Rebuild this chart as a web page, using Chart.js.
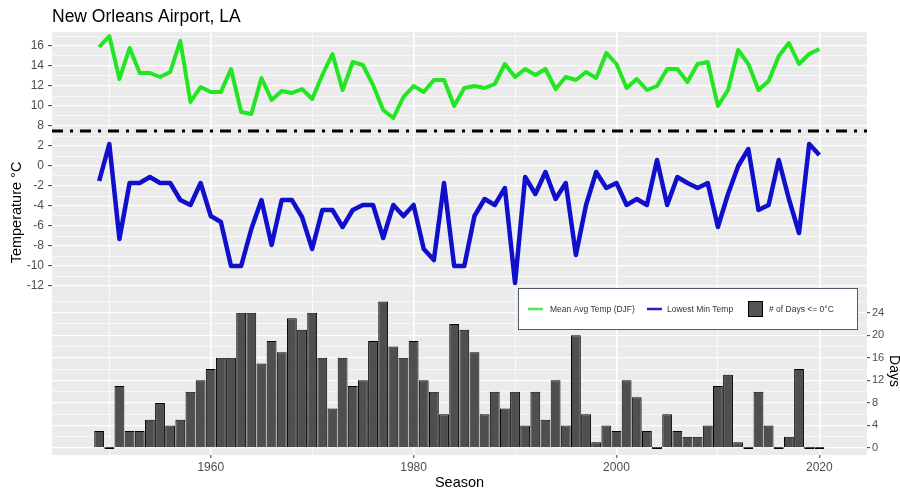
<!DOCTYPE html>
<html><head><meta charset="utf-8">
<script src="https://cdn.jsdelivr.net/npm/chart.js@4.4.1/dist/chart.umd.min.js"></script>
<style>html,body{margin:0;padding:0;background:#fff;}#wrap{width:900px;height:492px;}</style>
</head><body><div id="wrap"><canvas id="c" width="900" height="492"></canvas></div>
<script>
// ---------- data ----------
const seasons = [1949,1950,1951,1952,1953,1954,1955,1956,1957,1958,1959,1960,1961,1962,1963,1964,1965,1966,1967,1968,1969,1970,1971,1972,1973,1974,1975,1976,1977,1978,1979,1980,1981,1982,1983,1984,1985,1986,1987,1988,1989,1990,1991,1992,1993,1994,1995,1996,1997,1998,1999,2000,2001,2002,2003,2004,2005,2006,2007,2008,2009,2010,2011,2012,2013,2014,2015,2016,2017,2018,2019,2020];
const meanAvgTemp = [15.9,17.0,12.7,15.8,13.3,13.3,12.9,13.4,16.5,10.4,11.9,11.4,11.4,13.7,9.4,9.2,12.8,10.6,11.5,11.3,11.7,10.7,13.1,15.2,11.6,14.4,14.1,12.1,9.6,8.8,10.9,12.0,11.4,12.6,12.6,10.0,11.8,12.0,11.8,12.2,14.2,12.9,13.7,13.1,13.7,11.7,12.9,12.6,13.4,12.8,15.3,14.2,11.8,12.7,11.6,12.0,13.7,13.7,12.4,14.2,14.4,10.0,11.6,15.6,14.2,11.6,12.5,15.0,16.3,14.2,15.2,15.7];
const lowestMinTemp = [-1.5,2.2,-7.3,-1.7,-1.7,-1.1,-1.7,-1.7,-3.4,-3.9,-1.7,-5.0,-5.6,-10.0,-10.0,-6.3,-3.4,-7.9,-3.4,-3.4,-5.1,-8.3,-4.4,-4.4,-6.1,-4.4,-3.9,-3.9,-7.2,-3.9,-5.0,-3.9,-8.3,-9.4,-1.7,-10.0,-10.0,-5.0,-3.3,-3.9,-2.2,-11.7,-1.1,-2.8,-0.6,-3.3,-1.7,-8.9,-3.9,-0.6,-2.2,-1.7,-3.9,-3.3,-3.9,0.6,-3.9,-1.1,-1.7,-2.2,-1.7,-6.1,-2.8,0.0,1.7,-4.4,-3.9,0.6,-3.3,-6.7,2.2,1.1];
const daysAtOrBelow0 = [3,0,11,3,3,5,8,4,5,10,12,14,16,16,24,24,15,19,17,23,21,24,16,7,16,11,12,19,26,18,16,19,12,10,6,22,21,17,6,10,7,10,4,10,5,12,4,20,6,1,4,3,12,9,3,0,6,3,2,2,4,11,13,1,0,10,4,0,2,14,0,0];
const yearTickLabels = [1960,1980,2000,2020];
const upperTempTickLabels = [16,14,12,10,8];
const lowerTempTickLabels = [2,0,-2,-4,-6,-8,-10,-12];
const dayTickLabels = [0,4,8,12,16,20,24];
const upperOffset = 4;       // upper (mean) panel is drawn shifted down by 4 °C
const separatorLevel = 3.5;  // dash-dot divider between the two temperature bands

// ---------- helpers ----------
const FONT = "'Liberation Sans', Arial, sans-serif";
const X_MIN = 1944.35, X_MAX = 2024.7;

function tempLabel(v){
  if (v >= upperOffset && upperTempTickLabels.includes(v + upperOffset)) return String(v + upperOffset);
  if (v <= 2 && lowerTempTickLabels.includes(v)) return String(v);
  return '';
}

const panelBg = {
  id:'panelBg',
  beforeDraw(chart){
    const {ctx, chartArea:a} = chart;
    ctx.save(); ctx.fillStyle = '#EBEBEB';
    ctx.fillRect(a.left, a.top, a.right - a.left, a.bottom - a.top);
    ctx.restore();
  }
};

const texts = {
  id:'texts',
  afterDraw(chart){
    const {ctx, chartArea:a} = chart;
    ctx.save();
    ctx.fillStyle = '#000';
    ctx.font = `17.5px ${FONT}`;
    ctx.textAlign = 'left'; ctx.textBaseline = 'alphabetic';
    ctx.fillText('New Orleans Airport, LA', a.left, 21.5);

    ctx.font = `14.5px ${FONT}`;
    ctx.textAlign = 'center'; ctx.textBaseline = 'middle';
    ctx.fillText('Season', (a.left + a.right) / 2, 482.5);

    ctx.save(); ctx.translate(17, 212.5); ctx.rotate(-Math.PI/2);
    ctx.fillText('Temperature °C', 0, 0); ctx.restore();

    ctx.save(); ctx.translate(894, 371); ctx.rotate(Math.PI/2);
    ctx.font = `14px ${FONT}`;
    ctx.fillText('Days', 0, 0); ctx.restore();

    // legend
    const L = 518, T = 288, R = 858, B = 330, cy = 309;
    ctx.fillStyle = '#fff'; ctx.fillRect(L, T, R - L, B - T);
    ctx.strokeStyle = '#4f5a6b'; ctx.lineWidth = 1;
    ctx.strokeRect(L + 0.5, T + 0.5, R - L - 1, B - T - 1);
    ctx.lineWidth = 2.5;
    ctx.strokeStyle = '#55e655';
    ctx.beginPath(); ctx.moveTo(528, cy); ctx.lineTo(543, cy); ctx.stroke();
    ctx.strokeStyle = '#2020cc';
    ctx.beginPath(); ctx.moveTo(647, cy); ctx.lineTo(662, cy); ctx.stroke();
    ctx.fillStyle = '#000'; ctx.fillRect(748, 301, 15, 16);
    ctx.fillStyle = '#555'; ctx.fillRect(749, 302, 13, 14);
    ctx.fillStyle = '#333'; ctx.font = `8.5px ${FONT}`;
    ctx.textAlign = 'left'; ctx.textBaseline = 'middle';
    ctx.fillText('Mean Avg Temp (DJF)', 550, cy + 0.5);
    ctx.fillText('Lowest Min Temp', 667, cy + 0.5);
    ctx.fillText('# of Days <= 0°C', 769, cy + 0.5);
    ctx.restore();
  }
};

const data = {
  datasets: [
    {
      type:'line', label:'Mean Avg Temp (DJF)', xAxisID:'x', yAxisID:'yT',
      data: seasons.map((s,i)=>({x:s, y:meanAvgTemp[i] - upperOffset})),
      borderColor:'#22e622', borderWidth:4, pointRadius:0, tension:0,
      borderJoinStyle:'round', order:1
    },
    {
      type:'line', label:'Lowest Min Temp', xAxisID:'x', yAxisID:'yT',
      data: seasons.map((s,i)=>({x:s, y:lowestMinTemp[i]})),
      borderColor:'#1010cc', borderWidth:4.5, pointRadius:0, tension:0,
      borderJoinStyle:'round', order:1
    },
    {
      type:'line', label:'divider', xAxisID:'x', yAxisID:'yT',
      data: [{x:X_MIN, y:separatorLevel}, {x:X_MAX, y:separatorLevel}],
      borderColor:'#000', borderWidth:3, borderDash:[11,7,3,7], pointRadius:0, order:2
    },
    {
      type:'bar', label:'# of Days <= 0°C', xAxisID:'x', yAxisID:'yD',
      data: seasons.map((s,i)=>({x:s, y:daysAtOrBelow0[i]})),
      backgroundColor:'#4f4f4f', borderColor:'#000', borderWidth:1,
      barPercentage:0.97, categoryPercentage:1, minBarLength:2, order:3
    }
  ]
};

new Chart(document.getElementById('c'), {
  type:'bar',
  data,
  plugins:[panelBg, texts],
  options:{
    responsive:false, animation:false, devicePixelRatio:1,
    layout:{padding:{top:32, left:0, right:0, bottom:0}},
    plugins:{legend:{display:false}, tooltip:{enabled:false}, title:{display:false}},
    scales:{
      x:{
        type:'linear', position:'bottom', min:X_MIN, max:X_MAX, offset:false,
        afterFit(s){ s.height = 37; },
        border:{display:false},
        grid:{
          offset:false, drawTicks:true, tickLength:3, tickWidth:1,
          color:(c)=> (c.tick && c.tick.value % 10 === 0) ? '#ffffff' : 'rgba(0,0,0,0)',
          lineWidth:(c)=> (c.tick && yearTickLabels.includes(c.tick.value)) ? 1.6 : 0.7,
          tickColor:(c)=> (c.tick && yearTickLabels.includes(c.tick.value)) ? '#333333' : 'rgba(0,0,0,0)'
        },
        ticks:{
          stepSize:10, includeBounds:false, autoSkip:false, maxRotation:0, padding:2,
          color:'#4D4D4D', font:{family:FONT, size:12},
          callback:(v)=> yearTickLabels.includes(v) ? String(v) : ''
        }
      },
      yT:{
        type:'linear', position:'left', min:-28.9, max:13.4,
        afterFit(s){ s.width = 52; },
        border:{display:false},
        grid:{
          drawTicks:true, tickLength:4, tickWidth:1,
          color:(c)=> (c.tick && c.tick.value >= -12 && c.tick.value <= 13) ? '#ffffff' : 'rgba(0,0,0,0)',
          lineWidth:(c)=> (c.tick && c.tick.value % 2 === 0) ? 1.3 : 0.6,
          tickColor:(c)=> (c.tick && tempLabel(c.tick.value) !== '') ? '#333333' : 'rgba(0,0,0,0)'
        },
        ticks:{
          stepSize:1, includeBounds:false, autoSkip:false, padding:4,
          color:'#4D4D4D', font:{family:FONT, size:12},
          callback:(v)=> tempLabel(v)
        }
      },
      yD:{
        type:'linear', position:'right', min:-1.24, max:73.8,
        afterFit(s){ s.width = 33; },
        border:{display:false},
        grid:{
          drawOnChartArea:true, drawTicks:true, tickLength:3, tickWidth:1,
          color:(c)=> (c.tick && c.tick.value >= 0 && c.tick.value <= 26) ? '#ffffff' : 'rgba(0,0,0,0)',
          lineWidth:(c)=> (c.tick && c.tick.value % 4 === 0) ? 1.3 : 0.6,
          tickColor:(c)=> (c.tick && dayTickLabels.includes(c.tick.value)) ? '#333333' : 'rgba(0,0,0,0)'
        },
        ticks:{
          stepSize:2, includeBounds:false, autoSkip:false, padding:2,
          color:'#4D4D4D', font:{family:FONT, size:11},
          callback:(v)=> dayTickLabels.includes(v) ? String(v) : ''
        }
      }
    }
  }
});
</script>
</body></html>
